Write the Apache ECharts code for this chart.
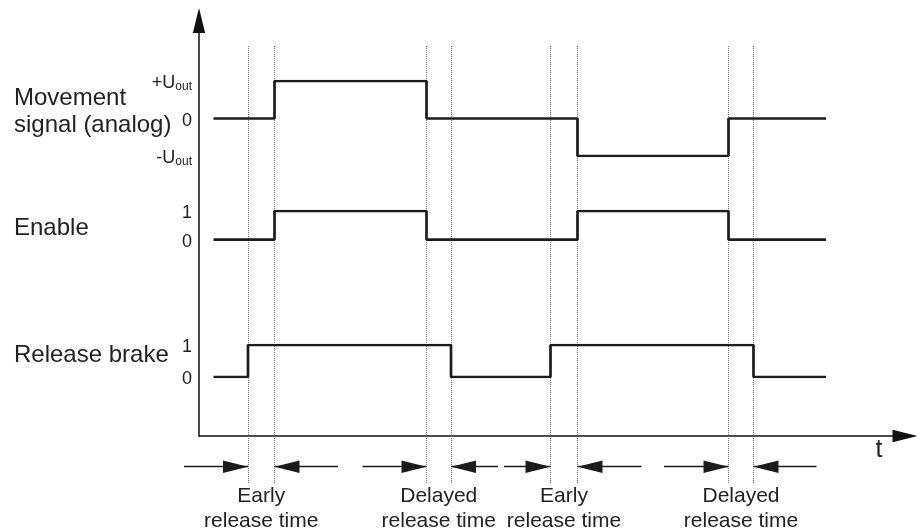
<!DOCTYPE html>
<html><head><meta charset="utf-8">
<script src="https://cdn.jsdelivr.net/npm/echarts@6/dist/echarts.min.js"></script>
<style>html,body{margin:0;padding:0;background:#fff}#c{width:922px;height:532px}</style>
</head><body><div id="c"></div>
<script>
// ---------------- data (time units along t) ----------------
const tStart = 2.9;
const tEnd = 125.4;
const tAxisMax = 141.2;
const enableEdges = [15.1, 45.5, 75.7, 105.9];
const brakeEdges = [9.8, 50.4, 70.3, 110.9];
const movementLevels = [0, 1, 0, -1, 0];
const enableLevels = [0, 1, 0, 1, 0];
const brakeLevels = [0, 1, 0, 1, 0];
const signalNames = ['Movement\nsignal (analog)', 'Enable', 'Release brake'];
const movementTickLabels = { '1': '+U{s|out}', '0': '0', '-1': '-U{s|out}' };
const binaryTickLabels = { '1': '1', '0': '0' };
const releaseLabels = ['Early\nrelease time', 'Delayed\nrelease time', 'Early\nrelease time', 'Delayed\nrelease time'];
const arrowInTails = [-3.0, 32.7, 61.0, 93.0];
const arrowOutTails = [27.8, 59.8, 88.5, 123.5];
const timeAxisName = 't';

// ---------------- build ----------------
const FONT = 'Liberation Sans, Arial, Helvetica, sans-serif';
const INK = '#222';
function steps(edges, levels) {
  const pts = [[tStart, levels[0]]];
  edges.forEach((e, i) => pts.push([e, levels[i + 1]]));
  pts.push([tEnd, levels[levels.length - 1]]);
  return pts;
}
const allEdges = enableEdges.concat(brakeEdges).sort((a, b) => a - b);
const pairs = [];
for (let i = 0; i < allEdges.length; i += 2) pairs.push([allEdges[i], allEdges[i + 1]]);

// rich-text wrapper for the row names; spacer lines nudge the block vertically
function richName(name, spaceTop, spaceBottom) {
  let s = name.split('\n').map(l => '{n|' + l + '}').join('\n');
  if (spaceTop) s = '{t| }\n' + s;
  if (spaceBottom) s = s + '\n{b| }';
  return s;
}
function nameRich(spaceTop, spaceBottom) {
  return {
    n: { fontFamily: FONT, fontSize: 24, lineHeight: 27, color: INK },
    t: { fontSize: 1, lineHeight: spaceTop || 1 },
    b: { fontSize: 1, lineHeight: spaceBottom || 1 }
  };
}

const chart = echarts.init(document.getElementById('c'), null, { renderer: 'canvas' });

const gridBase = { left: 199, width: 706, outerBoundsMode: 'none', containLabel: false };
const grids = [
  Object.assign({}, gridBase, { top: 20.5, height: 415.5 }),   // 0 main axes
  Object.assign({}, gridBase, { top: 81, height: 75 }),        // 1 movement
  Object.assign({}, gridBase, { top: 211, height: 28.7 }),     // 2 enable
  Object.assign({}, gridBase, { top: 345, height: 32 }),       // 3 brake
  Object.assign({}, gridBase, { top: 46, height: 437 }),       // 4 guides
  { left: 174, width: 731, top: 460, height: 13.4, outerBoundsMode: 'none', containLabel: false } // 5 arrows
];

const hiddenX = (i, min) => ({ type: 'value', gridIndex: i, min: min, max: tAxisMax, show: false });
const xAxes = [
  {
    type: 'value', gridIndex: 0, min: 0, max: tAxisMax,
    axisLine: { show: true, onZero: false, symbol: ['none', 'triangle'], symbolSize: [12.6, 25], lineStyle: { color: '#111', width: 1.5 } },
    axisTick: { show: false }, axisLabel: { show: false }, splitLine: { show: false },
    name: timeAxisName, nameLocation: 'end', nameGap: -26, nameMoveOverlap: false,
    nameTextStyle: { fontFamily: FONT, fontSize: 25, color: INK, align: 'center', verticalAlign: 'top', padding: [2, 0, 0, 0] }
  },
  hiddenX(1, 0), hiddenX(2, 0), hiddenX(3, 0), hiddenX(4, 0), hiddenX(5, -5)
];

function signalY(i, min, labels, name, spaceTop, spaceBottom) {
  return {
    type: 'value', gridIndex: i, min: min, max: 1, interval: 1,
    axisLine: { show: false }, axisTick: { show: false }, splitLine: { show: false },
    axisLabel: {
      show: true, margin: 7, fontFamily: FONT, fontSize: 18, color: INK, padding: [5, 0, 0, 0],
      formatter: v => labels[String(v)],
      rich: { s: { fontFamily: FONT, fontSize: 12, color: INK, verticalAlign: 'bottom' } }
    },
    name: richName(name, spaceTop, spaceBottom), nameLocation: 'middle', nameRotate: 0, nameGap: 185, nameMoveOverlap: false,
    nameTextStyle: { fontFamily: FONT, fontSize: 24, lineHeight: 27, color: INK, align: 'left', verticalAlign: 'middle',
                     rich: nameRich(spaceTop, spaceBottom) }
  };
}
const yAxes = [
  {
    type: 'value', gridIndex: 0, min: 0, max: 1,
    axisLine: { show: true, onZero: false, symbol: ['none', 'triangle'], symbolSize: [12.4, 25], lineStyle: { color: '#111', width: 1.5 } },
    axisTick: { show: false }, axisLabel: { show: false }, splitLine: { show: false }
  },
  signalY(1, -1, movementTickLabels, signalNames[0], 0, 14),
  signalY(2, 0, binaryTickLabels, signalNames[1], 6, 0),
  signalY(3, 0, binaryTickLabels, signalNames[2], 0, 12),
  { type: 'value', gridIndex: 4, min: 0, max: 1, show: false },
  { type: 'value', gridIndex: 5, min: 0, max: 1, show: false }
];

const sigLine = { color: '#1c1c1c', width: 2.7 };
function signalSeries(i, data) {
  return { type: 'line', xAxisIndex: i, yAxisIndex: i, step: 'end', symbol: 'none', data: data,
           lineStyle: sigLine, itemStyle: { color: '#1c1c1c' }, z: 5, silent: true };
}

const headEnd = (t) => ({ coord: [t, 0.5], symbol: 'triangle', symbolSize: [12.6, 25], symbolOffset: [0, '50%'] });
const arrowData = [];
pairs.forEach((p, i) => {
  arrowData.push([{ coord: [arrowInTails[i], 0.5], symbol: 'none' }, headEnd(p[0])]);
  arrowData.push([{ coord: [arrowOutTails[i], 0.5], symbol: 'none' }, headEnd(p[1])]);
});

const option = {
  animation: false,
  backgroundColor: '#fff',
  grid: grids,
  xAxis: xAxes,
  yAxis: yAxes,
  series: [
    signalSeries(1, steps(enableEdges, movementLevels)),
    signalSeries(2, steps(enableEdges, enableLevels)),
    signalSeries(3, steps(brakeEdges, brakeLevels)),
    {
      type: 'line', xAxisIndex: 4, yAxisIndex: 4, data: [], z: 1, silent: true,
      markLine: {
        silent: true, symbol: ['none', 'none'], label: { show: false },
        lineStyle: { color: '#777', width: 1, type: [1, 1] },
        data: allEdges.map(e => ({ xAxis: e }))
      },
      markArea: {
        silent: true, itemStyle: { color: 'rgba(0,0,0,0)' },
        label: { show: true, position: 'bottom', distance: 1, fontFamily: FONT, fontSize: 21, lineHeight: 25, color: INK, align: 'center' },
        data: pairs.map((p, i) => [{ xAxis: p[0], name: releaseLabels[i] }, { xAxis: p[1] }])
      }
    },
    {
      type: 'line', xAxisIndex: 5, yAxisIndex: 5, data: [], z: 2, silent: true,
      itemStyle: { color: '#1c1c1c' },
      markLine: {
        silent: true, symbol: ['none', 'triangle'], symbolSize: 20,
        label: { show: false },
        itemStyle: { color: '#1c1c1c' },
        lineStyle: { color: '#1c1c1c', width: 1.3, type: 'solid' },
        data: arrowData
      }
    }
  ]
};
chart.setOption(option);
</script>
</body></html>
